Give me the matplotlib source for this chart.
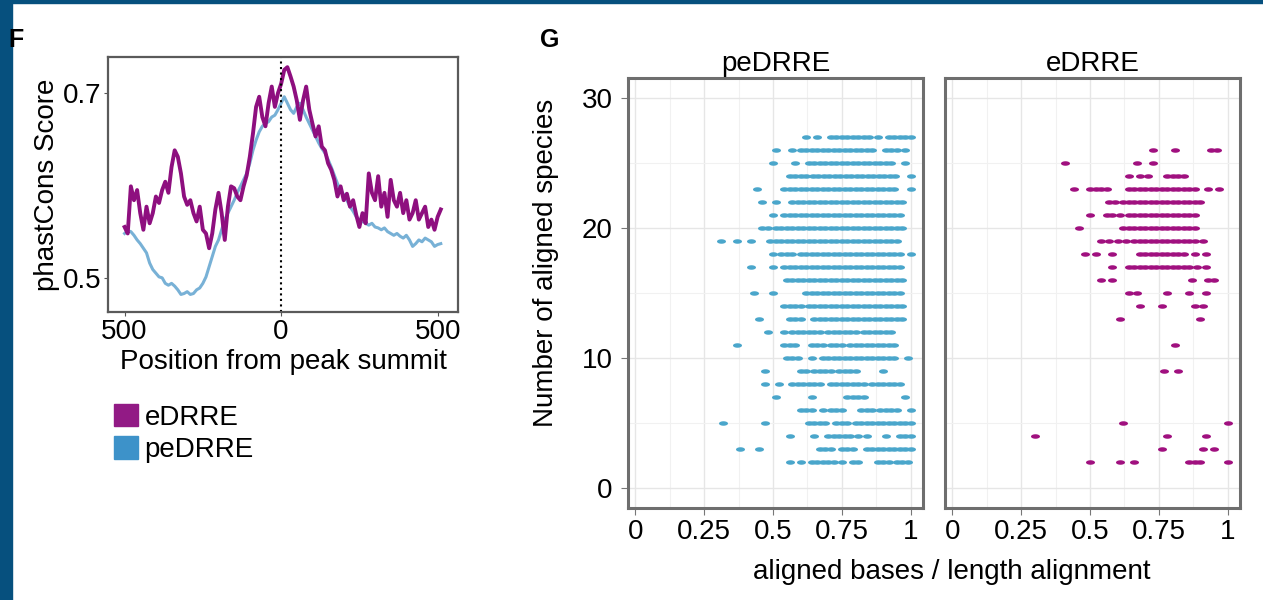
import numpy as np
import matplotlib
matplotlib.use("Agg")
import matplotlib.pyplot as plt
from matplotlib.patches import Patch, Rectangle
from matplotlib.path import Path

plt.rcParams["font.family"] = ["Liberation Sans", "DejaVu Sans"]

# -----------------------
# F: phastCons profile
# -----------------------
position = list(range(-500, 511, 10))

edrre_score = [
    0.555, 0.548, 0.599, 0.584, 0.595, 0.570, 0.552, 0.577, 0.559, 0.570,
    0.588, 0.581, 0.595, 0.604, 0.592, 0.620, 0.638, 0.631, 0.613, 0.588,
    0.579, 0.584, 0.570, 0.561, 0.577, 0.552, 0.548, 0.532, 0.548, 0.574,
    0.592, 0.570, 0.541, 0.577, 0.599, 0.597, 0.588, 0.584, 0.599, 0.611,
    0.631, 0.656, 0.685, 0.696, 0.674, 0.664, 0.689, 0.707, 0.685, 0.700,
    0.710, 0.725, 0.728, 0.718, 0.707, 0.692, 0.671, 0.692, 0.707, 0.682,
    0.667, 0.653, 0.664, 0.642, 0.638, 0.624, 0.617, 0.606, 0.588, 0.599,
    0.584, 0.591, 0.577, 0.584, 0.568, 0.555, 0.570, 0.559, 0.613, 0.592,
    0.584, 0.610, 0.577, 0.592, 0.566, 0.606, 0.584, 0.577, 0.592, 0.570,
    0.584, 0.563, 0.570, 0.584, 0.563, 0.570, 0.577, 0.555, 0.563, 0.552,
    0.566, 0.574,
]

pedrre_score = [
    0.548, 0.551, 0.550, 0.546, 0.541, 0.537, 0.532, 0.527, 0.516, 0.509,
    0.505, 0.501, 0.500, 0.494, 0.492, 0.494, 0.491, 0.487, 0.482, 0.483,
    0.485, 0.482, 0.483, 0.487, 0.489, 0.494, 0.501, 0.512, 0.523, 0.534,
    0.541, 0.552, 0.563, 0.570, 0.577, 0.584, 0.592, 0.599, 0.606, 0.613,
    0.624, 0.638, 0.649, 0.658, 0.664, 0.667, 0.669, 0.674, 0.676, 0.682,
    0.689, 0.696, 0.689, 0.682, 0.678, 0.685, 0.689, 0.682, 0.674, 0.667,
    0.660, 0.653, 0.646, 0.640, 0.635, 0.628, 0.620, 0.611, 0.602, 0.595,
    0.590, 0.584, 0.577, 0.572, 0.566, 0.563, 0.561, 0.559, 0.557, 0.559,
    0.555, 0.554, 0.552, 0.554, 0.550, 0.548, 0.546, 0.548, 0.545, 0.543,
    0.546, 0.541, 0.534, 0.537, 0.541, 0.539, 0.543, 0.541, 0.539, 0.534,
    0.536, 0.537,
]

# -----------------------
# G: aligned species vs aligned fraction
# -----------------------
pe_counts = [27, 26, 25, 24, 23, 22, 21, 20, 19, 18, 17, 16, 15, 14,
             13, 12, 11, 10, 9, 8, 7, 6, 5, 4, 3, 2]
pe_ratios = [
    [0.62, 0.66, 0.71, 0.73, 0.75, 0.77, 0.79, 0.81, 0.83, 0.85, 0.88, 0.92, 0.94, 0.96, 0.98, 1.0],
    [0.51, 0.57, 0.60, 0.62, 0.64, 0.66, 0.68, 0.70, 0.72, 0.74, 0.76, 0.78, 0.80, 0.82, 0.84, 0.86, 0.91, 0.93, 0.95, 0.98],
    [0.50, 0.58, 0.63, 0.65, 0.67, 0.69, 0.71, 0.73, 0.75, 0.77, 0.79, 0.81, 0.83, 0.85, 0.87, 0.89, 0.91, 0.93, 0.98],
    [0.56, 0.58, 0.60, 0.62, 0.645, 0.665, 0.685, 0.705, 0.725, 0.745, 0.765, 0.785, 0.805, 0.825, 0.845, 0.865, 0.885, 0.905, 0.925, 0.945, 1.0],
    [0.44, 0.54, 0.56, 0.58, 0.60, 0.62, 0.64, 0.66, 0.68, 0.70, 0.72, 0.74, 0.76, 0.78, 0.80, 0.82, 0.84, 0.86, 0.88, 0.90, 0.92, 0.94, 1.0],
    [0.46, 0.51, 0.57, 0.59, 0.61, 0.63, 0.65, 0.67, 0.69, 0.71, 0.73, 0.75, 0.77, 0.79, 0.81, 0.83, 0.85, 0.87, 0.89, 0.91, 0.93, 0.95, 0.97],
    [0.50, 0.54, 0.56, 0.58, 0.60, 0.62, 0.64, 0.66, 0.68, 0.70, 0.72, 0.74, 0.76, 0.78, 0.80, 0.82, 0.84, 0.86, 0.88, 0.90, 0.92, 0.94, 0.96],
    [0.46, 0.48, 0.51, 0.53, 0.55, 0.57, 0.59, 0.61, 0.63, 0.65, 0.67, 0.69, 0.71, 0.73, 0.75, 0.77, 0.79, 0.81, 0.83, 0.85, 0.87, 0.89, 0.91, 0.93, 0.95, 0.97],
    [0.31, 0.37, 0.42, 0.49, 0.51, 0.53, 0.55, 0.57, 0.59, 0.61, 0.63, 0.65, 0.67, 0.69, 0.71, 0.73, 0.75, 0.77, 0.79, 0.81, 0.83, 0.85, 0.87, 0.89, 0.91, 0.93, 0.95],
    [0.50, 0.53, 0.55, 0.57, 0.60, 0.62, 0.64, 0.66, 0.68, 0.70, 0.72, 0.74, 0.76, 0.78, 0.80, 0.82, 0.84, 0.86, 0.88, 0.90, 0.92, 0.94, 0.96, 1.0],
    [0.42, 0.50, 0.54, 0.56, 0.58, 0.60, 0.62, 0.64, 0.66, 0.68, 0.70, 0.72, 0.74, 0.76, 0.78, 0.80, 0.82, 0.84, 0.86, 0.88, 0.90, 0.92, 0.94, 0.96],
    [0.55, 0.57, 0.59, 0.61, 0.63, 0.65, 0.67, 0.69, 0.71, 0.73, 0.75, 0.77, 0.79, 0.81, 0.83, 0.85, 0.87, 0.89, 0.91, 0.93, 0.95, 0.97],
    [0.43, 0.50, 0.62, 0.64, 0.66, 0.68, 0.70, 0.72, 0.74, 0.76, 0.78, 0.80, 0.82, 0.84, 0.86, 0.88, 0.90, 0.92, 0.94, 0.96],
    [0.54, 0.56, 0.58, 0.60, 0.63, 0.65, 0.67, 0.69, 0.71, 0.73, 0.75, 0.77, 0.79, 0.81, 0.83, 0.85, 0.87, 0.89, 0.91, 0.93, 0.95, 0.97],
    [0.45, 0.56, 0.58, 0.60, 0.65, 0.67, 0.69, 0.71, 0.73, 0.75, 0.77, 0.79, 0.81, 0.83, 0.85, 0.87, 0.89, 0.91, 0.93, 0.95, 0.97],
    [0.48, 0.54, 0.57, 0.59, 0.61, 0.63, 0.65, 0.67, 0.70, 0.72, 0.74, 0.76, 0.78, 0.80, 0.83, 0.85, 0.87, 0.89, 0.91, 0.93],
    [0.37, 0.54, 0.56, 0.58, 0.64, 0.66, 0.68, 0.71, 0.73, 0.75, 0.78, 0.80, 0.82, 0.84, 0.86, 0.88, 0.90, 0.92, 0.94],
    [0.55, 0.57, 0.59, 0.64, 0.68, 0.70, 0.72, 0.74, 0.76, 0.78, 0.80, 0.82, 0.84, 0.86, 0.88, 0.90, 0.92, 0.94, 0.99],
    [0.47, 0.60, 0.62, 0.65, 0.67, 0.69, 0.71, 0.74, 0.76, 0.78, 0.80, 0.90],
    [0.47, 0.52, 0.57, 0.59, 0.61, 0.63, 0.65, 0.67, 0.71, 0.73, 0.75, 0.77, 0.79, 0.81, 0.83, 0.86, 0.88, 0.90, 0.92, 0.94, 0.96],
    [0.51, 0.64, 0.77, 0.79, 0.81, 0.83, 0.98],
    [0.60, 0.62, 0.64, 0.68, 0.71, 0.73, 0.75, 0.82, 0.84, 0.86, 0.89, 0.91, 0.93, 0.95, 1.0],
    [0.32, 0.47, 0.63, 0.65, 0.67, 0.69, 0.73, 0.75, 0.77, 0.80, 0.82, 0.84, 0.86, 0.88, 0.90, 0.92, 0.94, 0.96, 0.98, 1.0],
    [0.56, 0.65, 0.70, 0.72, 0.74, 0.76, 0.78, 0.81, 0.84, 0.91, 0.96, 0.98, 1.0],
    [0.38, 0.45, 0.67, 0.69, 0.71, 0.75, 0.77, 0.79, 0.84, 0.86, 0.88, 0.90, 0.92, 0.94, 0.96, 0.98, 1.0],
    [0.56, 0.60, 0.64, 0.66, 0.68, 0.70, 0.72, 0.75, 0.79, 0.81, 0.88, 0.90, 0.92, 0.95, 0.97, 0.99],
]

e_counts = [26, 25, 24, 23, 22, 21, 20, 19, 18, 17, 16, 15, 14, 13,
            11, 9, 5, 4, 3, 2]
e_ratios = [
    [0.73, 0.81, 0.94, 0.96],
    [0.41, 0.67, 0.73],
    [0.64, 0.68, 0.71, 0.78, 0.80, 0.82, 0.84],
    [0.44, 0.50, 0.52, 0.54, 0.56, 0.64, 0.66, 0.68, 0.70, 0.72, 0.74, 0.76, 0.78, 0.80, 0.82, 0.84, 0.86, 0.88, 0.93, 0.97],
    [0.57, 0.59, 0.62, 0.64, 0.66, 0.68, 0.70, 0.72, 0.74, 0.76, 0.78, 0.80, 0.82, 0.84, 0.86, 0.88, 0.90],
    [0.50, 0.56, 0.58, 0.61, 0.64, 0.66, 0.68, 0.70, 0.72, 0.74, 0.76, 0.78, 0.80, 0.82, 0.84, 0.86, 0.88],
    [0.46, 0.62, 0.64, 0.66, 0.68, 0.70, 0.72, 0.74, 0.76, 0.78, 0.80, 0.82, 0.84, 0.86, 0.88],
    [0.54, 0.57, 0.60, 0.63, 0.66, 0.68, 0.70, 0.72, 0.74, 0.76, 0.78, 0.80, 0.82, 0.84, 0.86, 0.88, 0.91],
    [0.48, 0.52, 0.58, 0.68, 0.70, 0.72, 0.74, 0.76, 0.78, 0.80, 0.82, 0.84, 0.88, 0.92],
    [0.58, 0.64, 0.66, 0.68, 0.70, 0.72, 0.74, 0.76, 0.78, 0.80, 0.82, 0.84, 0.86, 0.89, 0.92],
    [0.54, 0.58, 0.87, 0.93, 0.95],
    [0.64, 0.67, 0.78, 0.86, 0.92],
    [0.68, 0.76, 0.88, 0.91],
    [0.61, 0.90],
    [0.81],
    [0.77, 0.82],
    [0.62, 1.0],
    [0.30, 0.78, 0.92],
    [0.76, 0.91, 0.95],
    [0.50, 0.61, 0.66, 0.86, 0.88, 0.90, 1.0],
]

purple = "#8E0F7F"
blue = "#78B1D6"
pt_blue = "#4AA6CB"
pt_purple = "#A0107F"
frame_gray = "#6E6E6E"
FS = 20

fig = plt.figure(figsize=(12.63, 6), dpi=100)

# screenshot border
fig.patches.append(Rectangle((0, 0), 12 / 1263, 1, transform=fig.transFigure,
                             color="#06507E", zorder=0))
fig.patches.append(Rectangle((0, 1 - 3 / 600), 1, 3 / 600, transform=fig.transFigure,
                             color="#06507E", zorder=0))

# ---- panel F ----
axF = fig.add_axes([108 / 1263, 1 - 312 / 600, 350 / 1263, 255 / 600])
axF.plot(position, pedrre_score, color=blue, lw=2.2)
axF.plot(position, edrre_score, color=purple, lw=2.8)
axF.axvline(0, color="black", ls=":", lw=1.5)
axF.set_xlim(-553, 565)
axF.set_ylim(0.463, 0.739)
axF.set_xticks([-500, 0, 500])
axF.set_xticklabels(["500", "0", "500"])
axF.set_yticks([0.5, 0.7])
axF.set_yticklabels(["0.5", "0.7"])
axF.tick_params(labelsize=FS, length=3, color="#555555", pad=2)
for s in axF.spines.values():
    s.set_color("#5A5A5A")
    s.set_linewidth(1.6)
axF.set_xlabel("Position from peak summit", fontsize=FS, labelpad=3)
axF.set_ylabel("phastCons Score", fontsize=FS, labelpad=2)

fig.text(8 / 1263, 1 - 40 / 600, "F", fontsize=18, fontweight="bold", va="center")

handles = [Patch(color="#921A85", label="eDRRE"), Patch(color="#3D92C9", label="peDRRE")]
fig.legend(handles=handles, loc="upper left", bbox_to_anchor=(103 / 1263, 1 - 393 / 600),
           frameon=False, fontsize=FS, handlelength=0.85, handleheight=0.85,
           handletextpad=0.25, labelspacing=0.2, borderaxespad=0)

# ---- panel G ----
t = np.linspace(0, 2 * np.pi, 40)
ellipse = Path(np.column_stack([np.cos(t), 0.5 * np.sin(t)]), closed=True)

facets = [("peDRRE", pe_counts, pe_ratios, pt_blue, 628),
          ("eDRRE", e_counts, e_ratios, pt_purple, 945)]

for i, (name, counts, ratios, col, x0) in enumerate(facets):
    ax = fig.add_axes([x0 / 1263, 1 - 508 / 600, 295 / 1263, 430 / 600])
    xs, ys = [], []
    for c, r in zip(counts, ratios):
        xs += r
        ys += [c] * len(r)
    ax.scatter(xs, ys, s=42, marker=ellipse, color=col, linewidths=0, zorder=3)
    ax.set_xlim(-0.027, 1.045)
    ax.set_ylim(-1.5, 31.5)
    ax.set_xticks([0, 0.25, 0.5, 0.75, 1])
    ax.set_xticklabels(["0", "0.25", "0.5", "0.75", "1"])
    ax.set_xticks([0.125, 0.375, 0.625, 0.875], minor=True)
    ax.set_yticks([0, 10, 20, 30])
    ax.set_yticks([5, 15, 25], minor=True)
    ax.grid(which="major", color="#E6E6E6", lw=1.0, zorder=0)
    ax.grid(which="minor", color="#F1F1F1", lw=0.8, zorder=0)
    ax.tick_params(which="major", labelsize=FS, length=5, color="#777777", pad=3)
    ax.tick_params(axis="y", pad=6)
    ax.tick_params(which="minor", length=0)
    if i == 1:
        ax.tick_params(axis="y", labelleft=False, length=0)
    for s in ax.spines.values():
        s.set_color(frame_gray)
        s.set_linewidth(2.2)
    ax.set_title(name, fontsize=FS, pad=5)
    if i == 0:
        ax.set_ylabel("Number of aligned species", fontsize=FS)
        ax.yaxis.set_label_coords(-0.235, 0.57)

fig.text(952 / 1263, 1 - 572 / 600, "aligned bases / length alignment",
         fontsize=FS, ha="center", va="center")
fig.text(540 / 1263, 1 - 40 / 600, "G", fontsize=18, fontweight="bold", va="center")

fig.savefig("out.png", dpi=100)
